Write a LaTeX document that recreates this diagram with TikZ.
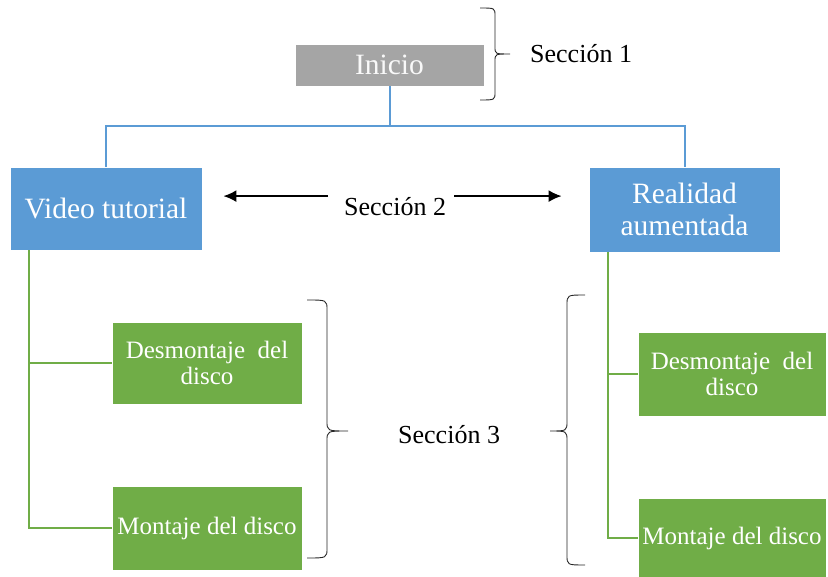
\documentclass[tikz,border=0pt]{standalone}
\usepackage{fontspec}
\setmainfont{Liberation Serif}
\newfontfamily\tnr{Liberation Serif}
\usetikzlibrary{arrows.meta}
\definecolor{boxgray}{HTML}{A5A5A5}
\definecolor{boxblue}{HTML}{5B9BD5}
\definecolor{boxgreen}{HTML}{70AD47}
\tikzset{
  box/.style={draw=white, line width=0.8pt, inner sep=0pt, text=white, align=center},
  graybox/.style={box, fill=boxgray, text=white!95!gray},
  bluebox/.style={box, fill=boxblue},
  greenbox/.style={box, fill=boxgreen},
  bigtext/.style={font=\tnr\fontsize{29.5}{32}\selectfont},
  smalltext/.style={font=\tnr\fontsize{25}{26.5}\selectfont},
  labeltext/.style={font=\tnr\fontsize{26}{28}\selectfont, inner sep=0pt, text=black},
  blueline/.style={draw=boxblue, line width=2pt},
  greenline/.style={draw=boxgreen, line width=2pt},
  arr/.style={draw=black, line width=1.8pt, -{Latex[length=13pt,width=12pt]}},
  bracket/.style={draw=black!85, line width=0.9pt},
}
\begin{document}
\begin{tikzpicture}[x=1pt,y=-1pt]
\useasboundingbox (0,0) rectangle (828,577);

% top level
\node[graybox, bigtext, minimum width=189pt, minimum height=42pt] (inicio) at (389.5,65) {Inicio};

% second level
\node[bluebox, bigtext, minimum width=192pt, minimum height=83pt] (video) at (106,208.5) {Video tutorial};
\node[bluebox, bigtext, minimum width=191pt, minimum height=85pt] (realidad) at (684.5,209.5) {Realidad\\aumentada};

% third level
\node[greenbox, smalltext, minimum width=190pt, minimum height=82pt] (desm1) at (207,363) {Desmontaje\enspace del\\disco};
\node[greenbox, smalltext, minimum width=190pt, minimum height=84pt] (mont1) at (207,528) {Montaje del disco};
\node[greenbox, smalltext, minimum width=188pt, minimum height=84pt] (desm2) at (732,374) {Desmontaje\enspace del\\disco};
\node[greenbox, smalltext, minimum width=188pt, minimum height=80pt] (mont2) at (732,538) {Montaje del disco};

% section labels
\node[labeltext, anchor=base west] (s1) at (530,63) {Sección 1};
\node[labeltext, anchor=base west] (s2) at (344,216) {Sección 2};
\node[labeltext, anchor=base west] (s3) at (398,443) {Sección 3};

% blue tree connectors
\draw[blueline] (inicio.south) -- ++(0,40) coordinate (bj);
\draw[blueline] (video.north) |- (bj) -| (realidad.north);

% green tree connectors
\draw[greenline] ([xshift=19pt]video.south west) |- (desm1.west);
\draw[greenline] ([xshift=19pt]video.south west) |- (mont1.west);
\draw[greenline] ([xshift=19pt]realidad.south west) |- (desm2.west);
\draw[greenline] ([xshift=19pt]realidad.south west) |- (mont2.west);

% section 2 arrows
\draw[arr, shorten <=16pt, shorten >=21pt] ([yshift=11pt]s2.west) -- ([yshift=11pt]s2.west -| video.east);
\draw[arr, shorten <=8pt, shorten >=27pt] ([yshift=11pt]s2.east) -- ([yshift=11pt]s2.east -| realidad.west);

% braces: closing brace beside Inicio
\draw[bracket] (480,8) .. controls (495,8) .. (495,16) -- (495,47)
  .. controls (495,54) .. (510,54) .. controls (495,54) .. (495,61)
  -- (495,92) .. controls (495,100) .. (480,100);
% closing brace for the left branch
\draw[bracket] (307,300) .. controls (327,300) .. (327,310) -- (327,421)
  .. controls (327,431) .. (348,431) .. controls (327,431) .. (327,441)
  -- (327,548) .. controls (327,558) .. (307,558);
% opening brace for the right branch
\draw[bracket] (585,295) .. controls (567,295) .. (567,305) -- (567,421)
  .. controls (567,431) .. (550,431) .. controls (567,431) .. (567,441)
  -- (567,555) .. controls (567,565) .. (585,565);
\end{tikzpicture}
\end{document}
